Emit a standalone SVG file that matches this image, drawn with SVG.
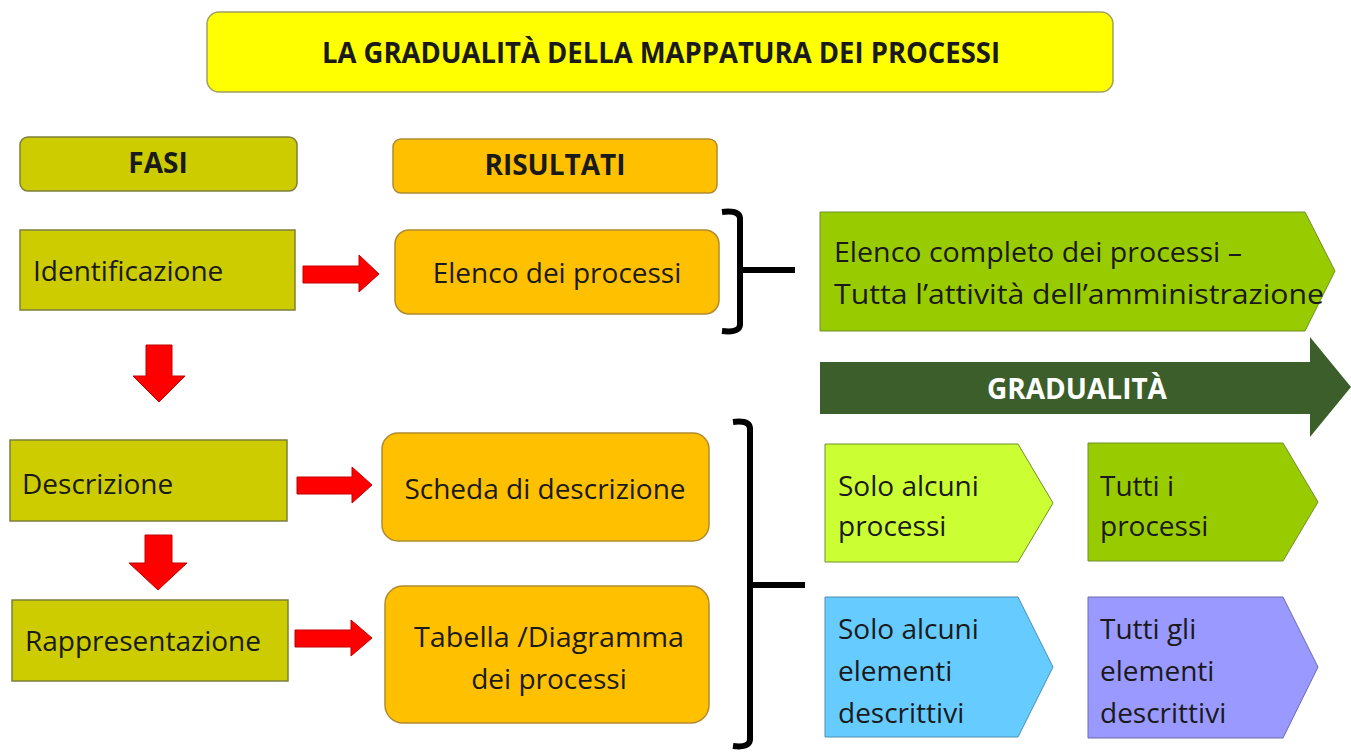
<svg xmlns="http://www.w3.org/2000/svg" width="1351" height="753" viewBox="0 0 1351 753">
<defs>
<style>
text{font-family:"Open Sans","Liberation Sans",sans-serif;fill:#1a1a1a;font-size:28px}
.b{font-weight:bold}
.c{text-anchor:middle}
.ol{fill:#CCCC00;stroke:#7f7f3a;stroke-width:1.5}
.or{fill:#FFC000;stroke:#b08a30;stroke-width:1.5}
.ra{fill:#FF0000;stroke:#c00000;stroke-width:1}
.br{fill:none;stroke:#000;stroke-width:6;stroke-linejoin:round}
.pg{stroke:#6e8f2a;stroke-width:1}
</style>
</defs>
<rect width="1351" height="753" fill="#fff"/>
<g id="title">
<rect x="207" y="12" width="906" height="80" rx="12" fill="#FFFF00" stroke="#a0a060" stroke-width="1.5"/>
<text x="661" y="63" class="b c" font-size="25" textLength="678" lengthAdjust="spacingAndGlyphs">LA GRADUALITÀ DELLA MAPPATURA DEI PROCESSI</text>
</g>
<g id="fasi">
<rect x="20" y="137" width="277" height="54" rx="8" class="ol"/>
<text x="158" y="173" class="b c" font-size="24">FASI</text>
</g>
<g id="risultati">
<rect x="393" y="139" width="324" height="54" rx="8" class="or"/>
<text x="555" y="175" class="b c" font-size="24">RISULTATI</text>
</g>
<g id="identificazione">
<rect x="20" y="230" width="275" height="80" class="ol"/>
<text x="33" y="281">Identificazione</text>
</g>
<g id="elenco">
<rect x="395" y="230" width="324" height="84" rx="14" class="or"/>
<text x="557" y="283" class="c">Elenco dei processi</text>
</g>
<g id="descrizione">
<rect x="10" y="440" width="277" height="81" class="ol"/>
<text x="22" y="494">Descrizione</text>
</g>
<g id="scheda">
<rect x="382" y="433" width="327" height="108" rx="16" class="or"/>
<text x="545" y="499" class="c">Scheda di descrizione</text>
</g>
<g id="rappresentazione">
<rect x="12" y="600" width="276" height="81" class="ol"/>
<text x="25" y="651">Rappresentazione</text>
</g>
<g id="tabella">
<rect x="385" y="586" width="324" height="137" rx="18" class="or"/>
<text x="549" y="647" class="c" textLength="270" lengthAdjust="spacingAndGlyphs">Tabella /Diagramma</text>
<text x="549" y="689" class="c">dei processi</text>
</g>
<g id="elenco-completo">
<polygon points="820,212 1305,212 1335,271 1305,331 820,331" fill="#99CC00" class="pg"/>
<text x="834" y="262" textLength="408" lengthAdjust="spacingAndGlyphs">Elenco completo dei processi –</text>
<text x="834" y="304" textLength="490" lengthAdjust="spacingAndGlyphs">Tutta l’attività dell’amministrazione</text>
</g>
<g id="gradualita">
<polygon points="820,362 1310,362 1310,337 1351,387 1310,437 1310,414 820,414" fill="#3B5E2B"/>
<text x="1077" y="399" class="b c" font-size="25" style="fill:#fff">GRADUALITÀ</text>
</g>
<g id="solo-processi">
<polygon points="825,444 1018,444 1053,503 1018,562 825,562" fill="#CCFF33" class="pg"/>
<text x="838" y="496">Solo alcuni</text>
<text x="838" y="536">processi</text>
</g>
<g id="tutti-processi">
<polygon points="1088,443 1283,443 1318,502 1283,561 1088,561" fill="#99CC00" class="pg"/>
<text x="1100" y="496">Tutti i</text>
<text x="1100" y="536">processi</text>
</g>
<g id="solo-elementi">
<polygon points="825,597 1018,597 1053,667 1018,737 825,737" fill="#66CCFF" stroke="#4a8fb0" stroke-width="1"/>
<text x="838" y="639">Solo alcuni</text>
<text x="838" y="681">elementi</text>
<text x="838" y="723">descrittivi</text>
</g>
<g id="tutti-elementi">
<polygon points="1088,597 1283,597 1318,667 1283,738 1088,738" fill="#9999FF" stroke="#6a6ab0" stroke-width="1"/>
<text x="1100" y="639">Tutti gli</text>
<text x="1100" y="681">elementi</text>
<text x="1100" y="723">descrittivi</text>
</g>
<g id="connectors">
<polygon class="ra" points="303,266 359,266 359,255 379,274 359,292 359,283 303,283"/>
<polygon class="ra" points="297,477 352,477 352,467 372,485 352,503 352,494 297,494"/>
<polygon class="ra" points="295,630 351,630 351,620 372,638 351,656 351,647 295,647"/>
<polygon class="ra" points="146,345 172,345 172,376 185,376 159,402 133,376 146,376"/>
<polygon class="ra" points="145,535 172,535 172,563 187,563 158,590 129,563 145,563"/>
<path class="br" d="M722,212 Q739,210 740,218 L740,325 Q739,333 722,331 M740,270 L795,270"/>
<path class="br" d="M733,422 Q749,420 750,428 L750,740 Q749,748 733,746 M750,585 L805,585"/>
</g>
</svg>
